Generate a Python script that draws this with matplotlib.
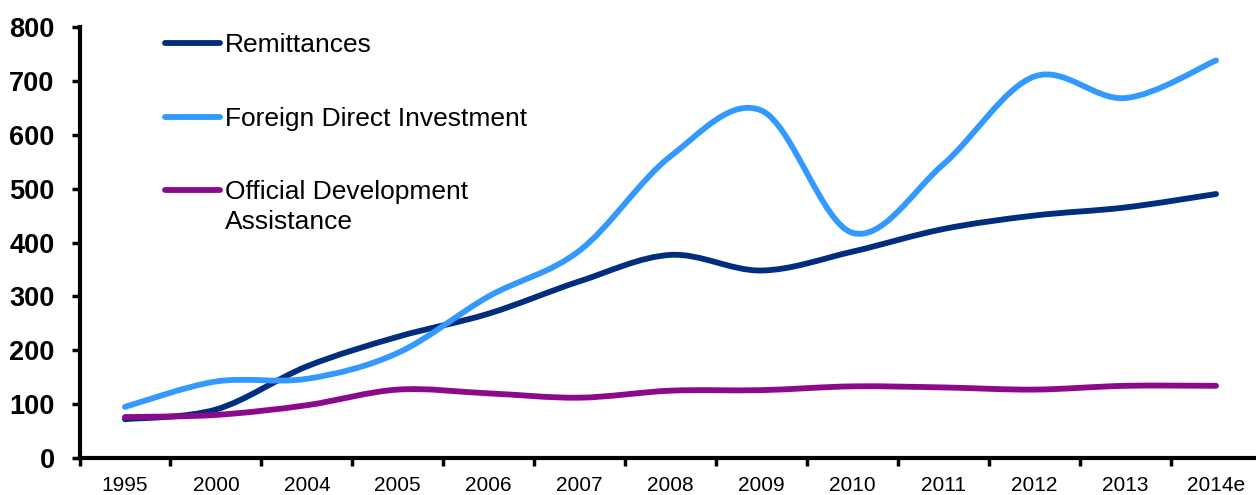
import numpy as np
import matplotlib.pyplot as plt
from matplotlib.path import Path
from matplotlib.patches import PathPatch

plt.rcParams['font.family'] = ['Liberation Sans', 'DejaVu Sans']

years = ['1995', '2000', '2004', '2005', '2006', '2007', '2008',
         '2009', '2010', '2011', '2012', '2013', '2014e']
remittances = [72, 90, 170, 225, 268, 328, 377, 348, 383, 425, 450, 465, 490]
fdi = [95, 142, 147, 195, 300, 385, 560, 645, 418, 545, 708, 668, 738]
oda = [76, 80, 98, 127, 120, 112, 125, 126, 133, 131, 127, 134, 134]

names = ['Remittances', 'Foreign Direct Investment',
         'Official Development\nAssistance']
colors = ['#002d7e', '#3399ff', '#8b0a8b']


def smooth_path(xs, ys):
    # cubic bezier segments through every point (Excel-style smoothed line)
    pts = np.column_stack([xs, ys]).astype(float)
    n = len(pts)
    verts = [pts[0]]
    codes = [Path.MOVETO]
    for i in range(n - 1):
        p0 = pts[max(i - 1, 0)]
        p1 = pts[i]
        p2 = pts[i + 1]
        p3 = pts[min(i + 2, n - 1)]
        c1 = p1 + (p2 - p0) / 6
        c2 = p2 - (p3 - p1) / 6
        verts += [c1, c2, p2]
        codes += [Path.CURVE4] * 3
    return Path(verts, codes)


fig = plt.figure(figsize=(12.56, 4.95), dpi=100)
ax = fig.add_axes([0.0633, 0.0747, 0.9411, 0.8708])

x = np.arange(len(years))
for vals, c in zip([remittances, fdi, oda], colors):
    ax.add_patch(PathPatch(smooth_path(x, vals), facecolor='none',
                           edgecolor=c, lw=4.2, capstyle='round', zorder=3))

ax.set_xlim(-0.5, len(years) - 0.5)
ax.set_ylim(0, 800)
ax.set_yticks(range(0, 801, 100))
ax.set_xticks(x)
ax.set_xticklabels(years, fontsize=15)
ax.set_xticks(np.arange(-0.5, len(years), 1), minor=True)
ax.tick_params(axis='x', which='major', length=0, pad=13)
ax.tick_params(axis='x', which='minor', length=6, width=2.5, direction='out')
ax.tick_params(axis='y', length=6, width=2.5, direction='out', labelsize=19.5, pad=12)
for lab in ax.get_yticklabels():
    lab.set_fontweight('bold')

for s in ['top', 'right']:
    ax.spines[s].set_visible(False)
for s in ['left', 'bottom']:
    ax.spines[s].set_linewidth(3)

# legend drawn by hand: handle sits level with the first line of each label
leg_y = [0.963, 0.791, 0.622]
for c, name, yy in zip(colors, names, leg_y):
    ax.plot([0.0723, 0.1189], [yy, yy], transform=ax.transAxes, color=c,
            lw=4.2, solid_capstyle='round', clip_on=False)
    ax.text(0.123, yy + 0.023, name, transform=ax.transAxes, fontsize=19,
            va='top', ha='left', linespacing=1.3)

fig.savefig('out.png', dpi=100)
